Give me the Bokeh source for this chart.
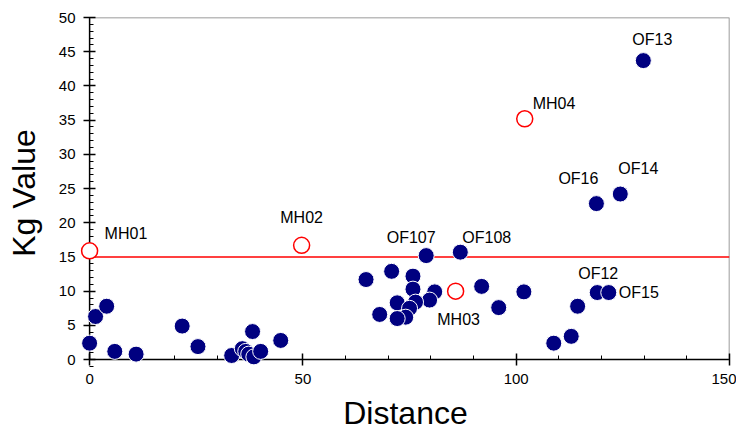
from bokeh.plotting import figure
from bokeh.models import Range1d, SingleIntervalTicker, ColumnDataSource
from bokeh.embed import file_html
from bokeh.resources import INLINE
from bokeh.core.properties import value

# ---------------- data ----------------
X_MIN, X_MAX = 0, 150
Y_MIN, Y_MAX = 0, 50

of_names = ["", "", "", "", "", "", "",
            "", "", "", "", "", "", "", "",
            "", "", "", "", "", "", "", "", "", "", "", "",
            "OF107", "OF108",
            "", "", "", "", "", "",
            "OF12", "OF15", "OF16", "OF14", "OF13"]
of_distance = [0.0, 1.4, 4.0, 5.9, 10.9, 21.7, 25.4,
               33.3, 35.8, 36.6, 37.3, 38.5, 40.1, 38.2, 44.8,
               64.8, 70.8, 75.8, 75.8, 80.9, 79.7, 76.4, 72.1, 75.0, 74.1, 72.1, 68.0,
               78.9, 86.9,
               91.9, 95.9, 101.8, 108.8, 112.9, 114.4,
               119.0, 121.7, 118.8, 124.4, 129.8]
of_kg = [2.4, 6.3, 7.8, 1.2, 0.8, 4.9, 1.9,
         0.6, 1.6, 1.2, 0.8, 0.4, 1.2, 4.1, 2.8,
         11.7, 12.9, 12.2, 10.3, 9.9, 8.7, 8.4, 8.3, 7.5, 6.2, 6.0, 6.6,
         15.2, 15.7,
         10.7, 7.6, 9.9, 2.4, 3.4, 7.8,
         9.8, 9.8, 22.8, 24.2, 43.7]

mh_names = ["MH01", "MH02", "MH03", "MH04"]
mh_distance = [0.0, 49.7, 85.8, 102.0]
mh_kg = [15.9, 16.7, 10.0, 35.2]

threshold_distance = [0, 150]
threshold_kg = [15, 15]

# ---------------- label styling (pixel offsets, alignment) ----------------
LABEL_STYLE = {
    "MH01": (15, -17, "left"),
    "MH02": (0, -28, "center"),
    "MH03": (3, 28, "center"),
    "MH04": (8, -15, "left"),
    "OF107": (-15, -18, "center"),
    "OF108": (2, -15, "left"),
    "OF16": (-18, -25, "center"),
    "OF14": (18, -26, "center"),
    "OF13": (9, -21, "center"),
    "OF12": (1, -19, "center"),
    "OF15": (10, 0, "left"),
}

lab_x, lab_y, lab_t, lab_dx, lab_dy, lab_al = [], [], [], [], [], []
for names, xs, ys in ((mh_names, mh_distance, mh_kg), (of_names, of_distance, of_kg)):
    for n, xv, yv in zip(names, xs, ys):
        if n:
            dx, dy, al = LABEL_STYLE[n]
            lab_x.append(xv); lab_y.append(yv); lab_t.append(n)
            lab_dx.append(dx); lab_dy.append(dy); lab_al.append(al)
labels = ColumnDataSource(dict(x=lab_x, y=lab_y, t=lab_t, dx=lab_dx, dy=lab_dy, al=lab_al))

# ---------------- figure ----------------
# ranges padded slightly below zero so markers on the axes are not clipped
p = figure(frame_width=648, frame_height=351,
           x_range=Range1d(-1.9, X_MAX), y_range=Range1d(-1.3, Y_MAX),
           output_backend="svg", toolbar_location=None,
           min_border_left=81, min_border_right=7, min_border_top=17, min_border_bottom=55)
p.grid.visible = False
p.outline_line_color = None
p.background_fill_color = "white"
p.border_fill_color = "white"

TICK_FONT = "Liberation Sans"
TITLE_FONT = "Liberation Sans"

p.yaxis.ticker = SingleIntervalTicker(interval=5, num_minor_ticks=5)
p.xaxis.ticker = SingleIntervalTicker(interval=50, num_minor_ticks=5)
p.xaxis.axis_label = "Distance"
p.yaxis.axis_label = "Kg Value"
for ax in (p.xaxis[0], p.yaxis[0]):
    ax.axis_line_color = None
    ax.major_tick_line_color = "black"
    ax.major_tick_line_width = 1.5
    ax.minor_tick_line_color = "black"
    ax.minor_tick_line_width = 1
    ax.major_label_text_font = TICK_FONT
    ax.major_label_text_font_size = "15px"
    ax.major_label_text_color = "black"
    ax.axis_label_text_font = TITLE_FONT
    ax.axis_label_text_font_size = "32px"
    ax.axis_label_text_font_style = "normal"
    ax.axis_label_text_color = "black"
# ticks start at the frame edge; shift them onto the zero lines
p.yaxis.major_tick_in = 14
p.yaxis.major_tick_out = -2
p.yaxis.minor_tick_in = 12
p.yaxis.minor_tick_out = -8
p.yaxis.major_label_standoff = 8
p.yaxis.axis_label_standoff = 14
p.xaxis.major_tick_in = 15
p.xaxis.major_tick_out = -3
p.xaxis.minor_tick_in = 13
p.xaxis.minor_tick_out = -9
p.xaxis.major_label_standoff = 8
p.xaxis.axis_label_standoff = 8

# axis lines at zero and top/right frame borders
p.line([X_MIN, X_MIN], [Y_MIN, Y_MAX], line_color="black", line_width=1.5)
p.line([X_MIN, X_MAX], [Y_MIN, Y_MIN], line_color="black", line_width=1.5)
p.line([X_MIN, X_MAX, X_MAX], [Y_MAX, Y_MAX, Y_MIN], line_color="#7a7a7a", line_width=1.5)

# threshold line
p.line(threshold_distance, threshold_kg, line_color="red", line_width=1.5)

# points
r1 = p.scatter(of_distance, of_kg, marker="circle", size=16,
               fill_color="#000080", line_color="white", line_width=1)
r2 = p.scatter(mh_distance, mh_kg, marker="circle", size=16,
               fill_color="white", line_color="red", line_width=1.5)
r3 = p.text(x="x", y="y", text="t", x_offset="dx", y_offset="dy", text_align="al",
            text_baseline="middle", source=labels,
            text_font=value("Liberation Sans"), text_font_size="16px", text_color="black")
for r in (r1, r2, r3):
    r.level = "overlay"

open("out.html", "w").write(file_html(p, INLINE))
